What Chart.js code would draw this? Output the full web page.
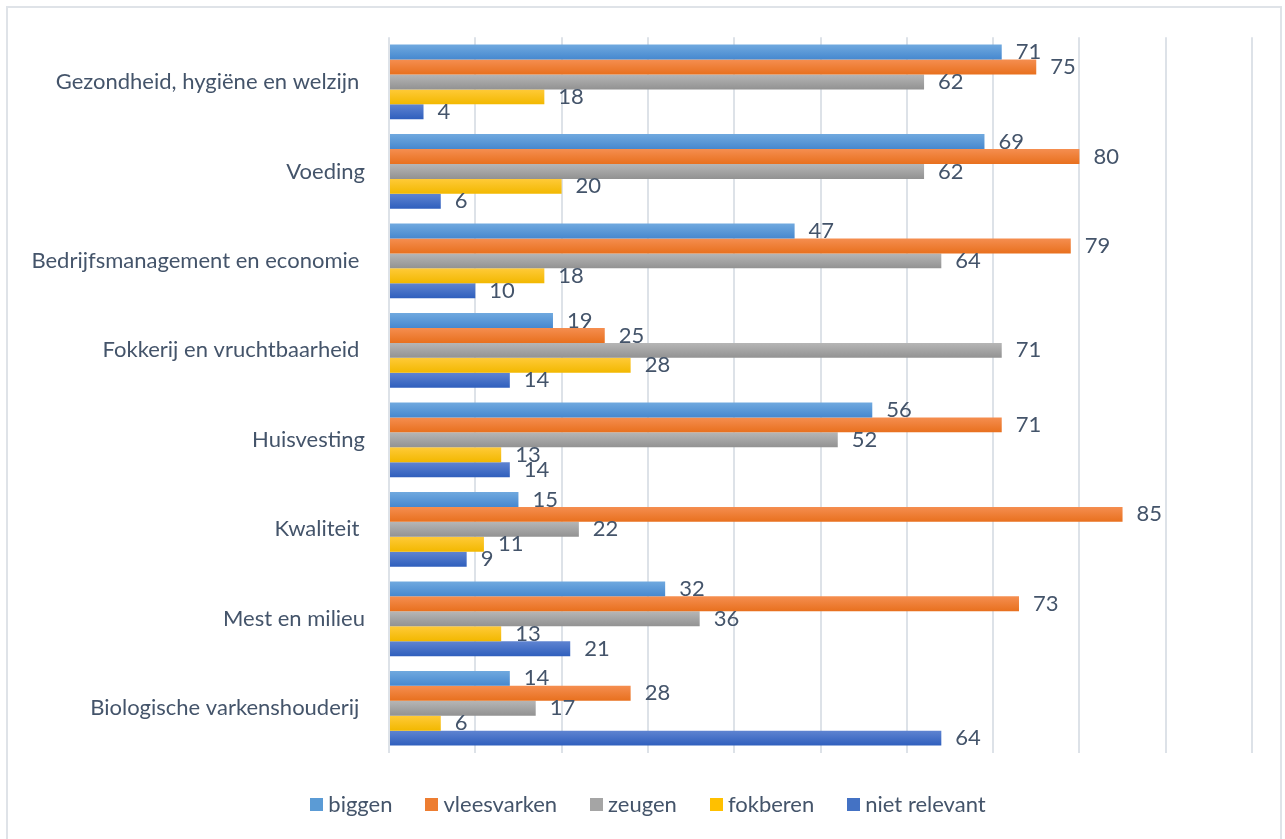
<!DOCTYPE html>
<html>
<head>
<meta charset="utf-8">
<script src="https://cdn.jsdelivr.net/npm/chart.js@4.4.1/dist/chart.umd.min.js"></script>
<style>
  html, body { margin: 0; padding: 0; background: #ffffff; overflow: hidden; }
  #frame { position: absolute; left: 6px; top: 6px; width: 1276px; height: 850px; border: 2px solid #dfe3e8; box-sizing: border-box; }
  #wrap { position: absolute; left: 0; top: 0; width: 1285px; height: 839px; }
</style>
</head>
<body>
<div id="frame"></div>
<div id="wrap"><canvas id="c" width="1285" height="839"></canvas></div>
<script>
const categories = [
  "Gezondheid, hygiëne en welzijn ",
  "Voeding",
  "Bedrijfsmanagement en economie ",
  "Fokkerij en vruchtbaarheid ",
  "Huisvesting",
  "Kwaliteit ",
  "Mest en milieu",
  "Biologische varkenshouderij "
];
const seriesNames = ["biggen", "vleesvarken", "zeugen", "fokberen", "niet relevant"];
const biggen       = [71, 69, 47, 19, 56, 15, 32, 14];
const vleesvarken  = [75, 80, 79, 25, 71, 85, 73, 28];
const zeugen       = [62, 62, 64, 71, 52, 22, 36, 17];
const fokberen     = [18, 20, 18, 28, 13, 11, 13, 6];
const nietRelevant = [4, 6, 10, 14, 14, 9, 21, 64];
const axisMin = 0, axisMax = 100, axisStep = 10;

const solidColors = ["#5b9bd5", "#ed7d31", "#a5a5a5", "#ffc000", "#4472c4"];
const gradTop     = ["#70a9df", "#f58e50", "#b6b6b6", "#ffca38", "#5f84d1"];
const gradBottom  = ["#4688cf", "#e8701e", "#929292", "#f2b800", "#2f5fbd"];
const CAT_PCT = 0.835;
const TEXT = "#44546a";
const FONT = "22px Lato";

function gradientFor(c) {
  const di = c.datasetIndex;
  const chart = c.chart;
  const ys = chart.scales && chart.scales.y;
  if (!ys || c.dataIndex == null || !isFinite(ys.getPixelForValue(0))) return solidColors[di];
  const band = ys.getPixelForValue(1) - ys.getPixelForValue(0);
  const center = ys.getPixelForValue(c.dataIndex);
  const n = chart.data.datasets.length;
  const th = band * CAT_PCT / n;
  const top = center - band * CAT_PCT / 2 + di * th;
  const g = chart.ctx.createLinearGradient(0, top, 0, top + th);
  g.addColorStop(0, gradTop[di]);
  g.addColorStop(1, gradBottom[di]);
  return g;
}

const valueLabels = {
  id: "valueLabels",
  afterDatasetsDraw(chart) {
    const ctx = chart.ctx;
    ctx.save();
    ctx.font = FONT;
    ctx.fillStyle = TEXT;
    ctx.textAlign = "left";
    ctx.textBaseline = "middle";
    chart.data.datasets.forEach((ds, i) => {
      const meta = chart.getDatasetMeta(i);
      meta.data.forEach((el, j) => {
        ctx.fillText(String(ds.data[j]), el.x + 14, el.y);
      });
    });
    ctx.restore();
  }
};

const bottomLegend = {
  id: "bottomLegend",
  afterDraw(chart) {
    const ctx = chart.ctx;
    ctx.save();
    ctx.font = FONT;
    ctx.textBaseline = "middle";
    ctx.textAlign = "left";
    const box = 13, gapText = 5, gapItem = 33;
    const items = chart.data.datasets.map((ds, i) => ({ text: ds.label, color: solidColors[i], w: ctx.measureText(ds.label).width }));
    const total = items.reduce((s, it) => s + box + gapText + it.w, 0) + gapItem * (items.length - 1);
    const cy = 805;
    let x = 648 - total / 2;
    items.forEach(it => {
      ctx.fillStyle = it.color;
      ctx.fillRect(Math.round(x), cy - 7, box, box);
      ctx.fillStyle = TEXT;
      ctx.fillText(it.text, x + box + gapText, cy);
      x += box + gapText + it.w + gapItem;
    });
    ctx.restore();
  }
};

function build() {
  Chart.defaults.font.family = "Lato";
  Chart.defaults.font.size = 22;
  Chart.defaults.color = TEXT;
  const seriesData = [biggen, vleesvarken, zeugen, fokberen, nietRelevant];
  new Chart(document.getElementById("c"), {
    type: "bar",
    data: {
      labels: categories,
      datasets: seriesNames.map((name, i) => ({
        label: name,
        data: seriesData[i],
        backgroundColor: gradientFor,
        borderWidth: 0,
        categoryPercentage: CAT_PCT,
        barPercentage: 1.0
      }))
    },
    options: {
      indexAxis: "y",
      responsive: false,
      animation: false,
      events: [],
      layout: { padding: { top: 37, right: 33, bottom: 86, left: 0 } },
      scales: {
        x: {
          min: axisMin, max: axisMax,
          ticks: { display: false, stepSize: axisStep },
          grid: { color: "#dde2e8", lineWidth: 2, drawTicks: false },
          border: { display: false },
          afterFit(scale) { scale.height = 0; }
        },
        y: {
          grid: { display: false, drawTicks: false },
          border: { display: false },
          ticks: { padding: 24, color: TEXT, font: { size: 22 } },
          afterFit(scale) { scale.width = 389; }
        }
      },
      plugins: {
        tooltip: { enabled: false },
        legend: { display: false }
      }
    },
    plugins: [valueLabels, bottomLegend]
  });
}

if (document.fonts && document.fonts.load) {
  document.fonts.load("22px Lato").then(build, build);
} else { build(); }
</script>
</body>
</html>
